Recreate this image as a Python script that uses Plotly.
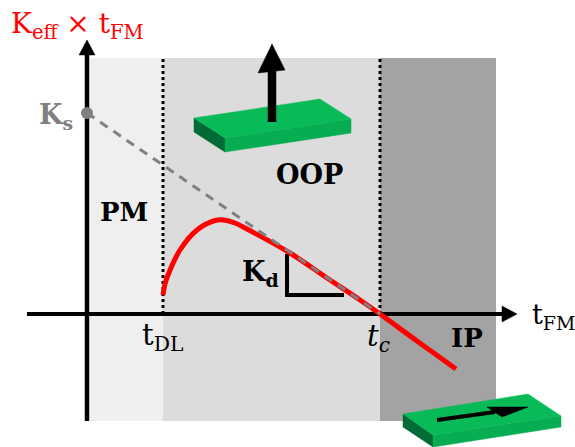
import plotly.graph_objects as go

# Values are in chart units: thickness from the y axis, anisotropy above the x axis
ks_line_t = [0, 293]
ks_line_k = [201, 0]
curve_t = [76, 78, 81, 93, 110, 128, 137, 148, 160, 203, 240, 273, 293, 330, 369]
curve_k = [19, 30, 39, 64, 84, 93.5, 94, 91, 85, 61, 36, 14, 0, -27, -55]
t_dl = 76
t_c = 293
region_x = [3, 76, 293, 409]
region_colors = ["#efefef", "#dcdcdc", "#a3a3a3"]
region_top = 256
region_bottom = -107

block_top_top = ([107, 233, 264, 138], [196, 215, 195, 176])
block_top_side = ([138, 264, 264, 138], [176, 195, 181, 162])
block_top_left = ([107, 138, 138, 107], [196, 176, 162, 182])
block_bot_top = ([316, 441, 474, 346], [-100, -80, -102, -121])
block_bot_side = ([346, 474, 474, 346], [-121, -102, -113, -133])
block_bot_left = ([316, 346, 346, 316], [-100, -121, -133, -113])

W, H = 575, 447
X0, Y0 = 87, 314
SERIF = "DejaVu Serif"

fig = go.Figure()

for i, c in enumerate(region_colors):
    fig.add_shape(type="rect", x0=region_x[i], x1=region_x[i + 1], y0=region_bottom, y1=region_top,
                  fillcolor=c, line_width=0, layer="below")

def poly(xs, ys, color):
    fig.add_trace(go.Scatter(x=xs + xs[:1], y=ys + ys[:1], mode="lines", fill="toself", fillcolor=color,
                             line=dict(color=color, width=0.5), hoverinfo="skip", showlegend=False))

def line(xs, ys, color, width, dash="solid"):
    fig.add_trace(go.Scatter(x=xs, y=ys, mode="lines", line=dict(color=color, width=width, dash=dash),
                             hoverinfo="skip", showlegend=False))

# dotted boundaries
line([t_dl, t_dl], [0, region_top], "black", 3, "3px,3px")
line([t_c, t_c], [0, region_top], "black", 3, "3px,3px")

# axes with arrowheads
line([-60, 416], [0, 0], "black", 4)
poly([415, 430, 415], [8, 0, -8], "black")
line([0, 0], [region_bottom, 260], "black", 4.5)
poly([-8, 0, 8], [259, 274, 259], "black")

# K_d slope triangle
line([200, 200, 257], [60, 19, 19], "black", 4)

# anisotropy curve and dashed K_s line
line(curve_t, curve_k, "#ff0000", 5)
fig.data[-1].line.shape = "spline"
line(ks_line_t, ks_line_k, "#808080", 3, "9px,7px")
fig.add_trace(go.Scatter(x=[0], y=[201], mode="markers", marker=dict(size=12, color="#808080"),
                         hoverinfo="skip", showlegend=False))

# upper block and arrow
poly(*block_top_left, "#006b34")
poly(*block_top_side, "#07ad52")
poly(*block_top_top, "#08bb58")
line([185, 185], [192, 245], "black", 8.5)
poly([171, 185, 198], [241, 270, 244], "black")

# lower block and arrow
poly(*block_bot_left, "#006b34")
poly(*block_bot_side, "#07ad52")
poly(*block_bot_top, "#08bb58")
line([350, 408], [-106, -98], "black", 4)
poly([400, 441, 415], [-93, -93, -103], "black")

def text(x, y, s, color="black", size=20):
    fig.add_annotation(x=x, y=y, text=s, showarrow=False, xanchor="center", yanchor="middle",
                       font=dict(family=SERIF, size=size, color=color))

text(-10, 289, "K<sub>eff</sub> × t<sub>FM</sub>", "#ff0000", 28)
text(-31, 198, "<b>K<sub>s</sub></b>", "#808080", 27)
text(37, 102, "<b>PM</b>", "black", 26)
text(222, 140, "<b>OOP</b>", "black", 27)
text(380, -24, "<b>IP</b>", "black", 26)
text(173, 41, "<b>K<sub>d</sub></b>", "black", 27)
text(75, -23, "t<sub>DL</sub>", "black", 29)
text(291, -24, "<i>t<sub>c</sub></i>", "black", 29)
text(466, -2, "t<sub>FM</sub>", "black", 27)

fig.update_layout(width=W, height=H, margin=dict(l=0, r=0, t=0, b=0), autosize=False,
                  paper_bgcolor="white", plot_bgcolor="white", showlegend=False)
fig.update_xaxes(range=[-X0, W - X0], visible=False, fixedrange=True)
fig.update_yaxes(range=[Y0 - H, Y0], visible=False, fixedrange=True)
fig.write_html("out.html", config=dict(displayModeBar=False),
               post_script="document.body.style.margin='0';document.body.style.overflow='hidden';")
